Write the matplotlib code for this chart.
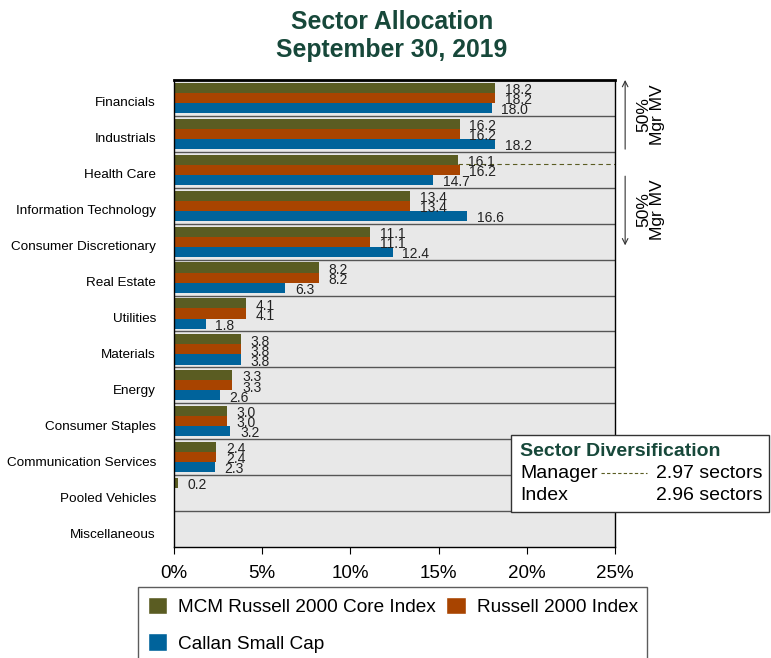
import matplotlib.pyplot as plt
from matplotlib.patches import Rectangle, Patch
from matplotlib.lines import Line2D
from matplotlib.transforms import ScaledTranslation
import numpy as np

plt.rcParams['font.family'] = ['Liberation Sans', 'DejaVu Sans']

sectors = ["Financials", "Industrials", "Health Care", "Information Technology",
           "Consumer Discretionary", "Real Estate", "Utilities", "Materials",
           "Energy", "Consumer Staples", "Communication Services",
           "Pooled Vehicles", "Miscellaneous"]
mcm = [18.2, 16.2, 16.1, 13.4, 11.1, 8.2, 4.1, 3.8, 3.3, 3.0, 2.4, 0.2, 0.05]
russell = [18.2, 16.2, 16.2, 13.4, 11.1, 8.2, 4.1, 3.8, 3.3, 3.0, 2.4, 0.0, 0.0]
callan = [18.0, 18.2, 14.7, 16.6, 12.4, 6.3, 1.8, 3.8, 2.6, 3.2, 2.3, 0.0, 0.0]
series_names = ["MCM Russell 2000 Core Index", "Russell 2000 Index", "Callan Small Cap"]
colors = ["#5a5c22", "#a84400", "#00639b"]
manager_div = 2.97
index_div = 2.96

title_color = "#17483a"

fig = plt.figure(figsize=(7.71, 6.58), dpi=100)
ax = fig.add_axes([174 / 771, 1 - 547 / 658, 441 / 771, 467 / 658])
ax.set_facecolor("#e8e8e8")

y = np.arange(len(sectors))
h = 0.28
offsets = [-0.28, 0.0, 0.28]
for vals, off, col in zip([mcm, russell, callan], offsets, colors):
    ax.barh(y + off, vals, height=h, color=col, edgecolor="none")
    for yi, v in zip(y, vals):
        if v >= 0.1:
            ax.text(v + 0.55, yi + off + 0.06, f"{v:.1f}", va="center", ha="left",
                    fontsize=10, color="#222222")

for i in range(1, len(sectors)):
    ax.axhline(i - 0.5, color="#555555", lw=1)

ax.set_ylim(len(sectors) - 0.5, -0.5)
ax.set_xlim(0, 25)
ax.set_yticks(y)
ax.set_yticklabels(sectors, fontsize=9.7)
ax.tick_params(axis="y", length=0, pad=13)
shift = ScaledTranslation(0, -4 / 100, fig.dpi_scale_trans)
for lbl in ax.get_yticklabels():
    lbl.set_transform(lbl.get_transform() + shift)
ax.set_xticks([0, 5, 10, 15, 20, 25])
ax.set_xticklabels([f"{t}%" for t in [0, 5, 10, 15, 20, 25]], fontsize=13.5)
ax.tick_params(axis="x", length=5, pad=8)
for s in ax.spines.values():
    s.set_color("black")
    s.set_linewidth(1)
ax.spines["top"].set_linewidth(2)

# manager 50% split line
ax.plot([mcm[2], 25], [1.83, 1.83], ls=(0, (4, 3)), color="#5a5c22", lw=0.8)

# 50% Mgr MV arrows
ax.annotate("", xy=(1.023, 1.006), xytext=(1.023, 0.846), xycoords="axes fraction",
            arrowprops=dict(arrowstyle="->", color="#333333", lw=0.8))
ax.annotate("", xy=(1.023, 0.64), xytext=(1.023, 0.80), xycoords="axes fraction",
            arrowprops=dict(arrowstyle="->", color="#333333", lw=0.8))
for yc in [115, 210]:
    fig.text(651 / 771, 1 - yc / 658, "50%\nMgr MV", rotation=90, ha="center",
             va="center", fontsize=12.5, linespacing=0.9)

fig.text(0.508, 1 - 36 / 658, "Sector Allocation\nSeptember 30, 2019", ha="center",
         va="center", fontsize=17.8, fontweight="bold", color=title_color, linespacing=1.22)

# diversification box
fig.patches.append(Rectangle((511 / 771, 1 - 512 / 658), 258 / 771, 77 / 658,
                             transform=fig.transFigure, facecolor="white",
                             edgecolor="#333333", lw=1, zorder=5))
fig.text(520 / 771, 1 - 451 / 658, "Sector Diversification", fontsize=14,
         fontweight="bold", color=title_color, va="center", zorder=6)
fig.text(520 / 771, 1 - 473 / 658, "Manager", fontsize=14, va="center", zorder=6)
fig.text(520 / 771, 1 - 496 / 658, "Index", fontsize=14, va="center", zorder=6)
fig.text(763 / 771, 1 - 473 / 658, f"{manager_div:.2f} sectors", fontsize=14,
         va="center", ha="right", zorder=6)
fig.text(763 / 771, 1 - 496 / 658, f"{index_div:.2f} sectors", fontsize=14,
         va="center", ha="right", zorder=6)
fig.lines.append(Line2D([601 / 771, 647 / 771], [1 - 473 / 658, 1 - 473 / 658],
                        transform=fig.transFigure, ls=(0, (3, 2)), color="#5a5c22",
                        lw=0.8, zorder=6))

# column-wise fill: MCM, Callan | Russell -> rows MCM, Russell / Callan
order = [0, 2, 1]
handles = [Patch(facecolor=colors[k], edgecolor="white") for k in order]
labels = [series_names[k] for k in order]
leg = fig.legend(handles, labels, loc="upper left",
                 bbox_to_anchor=(138 / 771, 1 - 587 / 658), borderaxespad=0,
                 ncol=2, fontsize=13.7, frameon=True, fancybox=False,
                 edgecolor="#333333", handlelength=1.05, handleheight=1.05,
                 columnspacing=0.55, handletextpad=0.55, labelspacing=0.92,
                 borderpad=0.5)
leg.get_frame().set_linewidth(1)

fig.savefig("out.png", dpi=100)
